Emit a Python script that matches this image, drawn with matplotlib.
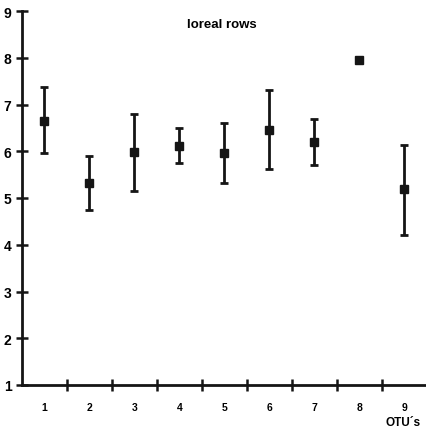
import matplotlib
matplotlib.use("Agg")
import matplotlib.pyplot as plt
import numpy as np

otus = [1, 2, 3, 4, 5, 6, 7, 8, 9]
means = [6.65, 5.32, 5.98, 6.11, 5.96, 6.45, 6.20, 7.95, 5.20]
upper = [7.37, 5.90, 6.80, 6.50, 6.60, 7.30, 6.70, 7.95, 6.14]
lower = [5.96, 4.75, 5.16, 5.74, 5.33, 5.62, 5.70, 7.95, 4.21]
yticks = [1, 2, 3, 4, 5, 6, 7, 8, 9]
title = "loreal rows"
xlabel = "OTU´s"

plt.rcParams['font.family'] = ['Liberation Sans', 'DejaVu Sans']
col = '#151515'

fig = plt.figure(figsize=(4.27, 4.35), dpi=100)
ax = fig.add_axes([22/427, 49/435, 405/427, 374/435])

x = np.array(otus)
m = np.array(means)
lo = np.array(lower)
up = np.array(upper)
has_err = up > lo
yerr = np.vstack([m[has_err] - lo[has_err], up[has_err] - m[has_err]])
ax.errorbar(x[has_err], m[has_err], yerr=yerr, fmt='none', ecolor=col,
            elinewidth=2.0, capsize=3.2, capthick=2.0)
ax.plot(x, m, 's', color=col, ms=5.5, zorder=5)

ax.set_xlim(0.5, 9.5)
ax.set_ylim(1, 9)
for s in ['top', 'right']:
    ax.spines[s].set_visible(False)
for s in ['left', 'bottom']:
    ax.spines[s].set_linewidth(2.0)
    ax.spines[s].set_color(col)

ax.set_yticks(yticks)
ax.set_yticklabels([str(v) for v in yticks], fontweight='bold', fontsize=10)
ax.tick_params(axis='y', direction='inout', length=9, width=1.8, color=col, pad=3)

ax.set_xticks(otus)
ax.set_xticklabels([str(v) for v in otus], fontweight='bold', fontsize=7.5)
ax.set_xticks(np.arange(1.5, 10, 1.0), minor=True)
ax.tick_params(axis='x', which='major', length=0, pad=12)
ax.tick_params(axis='x', which='minor', direction='inout', length=9, width=1.8, color=col)

ax.text(4.95, 8.72, title, ha='center', va='center', fontweight='bold', fontsize=9.5)
fig.text(403/427, 1 - 423/435, xlabel, ha='center', va='center', fontweight='bold', fontsize=8.5)

fig.savefig('out.png', dpi=100)
